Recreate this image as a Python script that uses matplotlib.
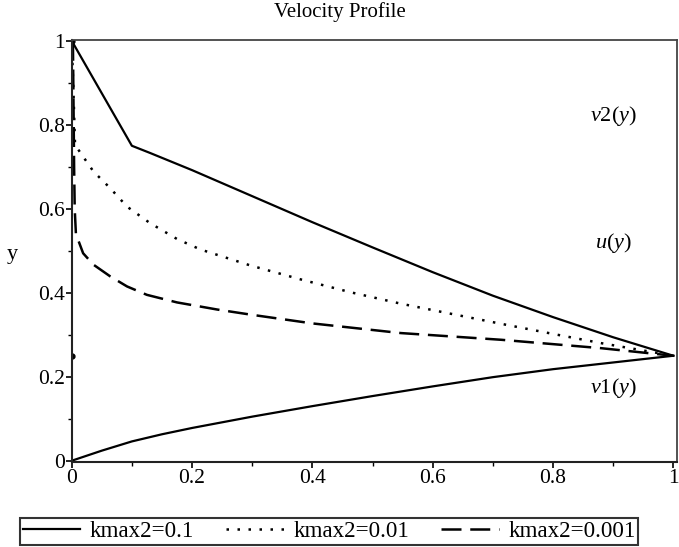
import matplotlib
matplotlib.use("Agg")
import matplotlib.pyplot as plt
from matplotlib.ticker import MultipleLocator

plt.rcParams["font.family"] = ["Liberation Serif", "DejaVu Serif"]
plt.rcParams["mathtext.fontset"] = "custom"
plt.rcParams["mathtext.rm"] = "Liberation Serif"
plt.rcParams["mathtext.it"] = "Liberation Serif:italic"

# v2 + u part of each profile (velocity on x, position y on the vertical)
x_k01 = [0.0, 0.1, 0.13, 0.2, 0.3, 0.4, 0.5, 0.6, 0.7, 0.8, 0.9, 1.0]
y_k01 = [1.0, 0.75, 0.733, 0.692, 0.630, 0.568, 0.508, 0.449, 0.393, 0.342, 0.294, 0.25]

x_k001 = [0.0, 0.003, 0.0055, 0.036, 0.064, 0.092, 0.13, 0.175, 0.214, 0.297, 0.38,
          0.464, 0.547, 0.63, 0.714, 0.8, 0.88, 1.0]
y_k001 = [1.0, 0.875, 0.752, 0.689, 0.649, 0.605, 0.566, 0.528, 0.503, 0.465, 0.432,
          0.401, 0.374, 0.350, 0.326, 0.302, 0.280, 0.25]

x_k0001 = [0.002, 0.003, 0.004, 0.005, 0.007, 0.019, 0.036, 0.064, 0.092, 0.125, 0.175,
           0.242, 0.297, 0.4, 0.547, 0.714, 0.88, 1.0]
y_k0001 = [1.0, 0.85, 0.70, 0.60, 0.54, 0.494, 0.467, 0.439, 0.415, 0.395, 0.377,
           0.360, 0.348, 0.327, 0.304, 0.288, 0.268, 0.25]

# v1 part, same for all kmax2
x_v1 = [0.0, 0.05, 0.1, 0.15, 0.2, 0.3, 0.4, 0.5, 0.6, 0.7, 0.8, 0.9, 1.0]
y_v1 = [0.0, 0.024, 0.046, 0.063, 0.078, 0.105, 0.130, 0.154, 0.177, 0.199, 0.218, 0.234, 0.25]

labels = ["kmax2=0.1", "kmax2=0.01", "kmax2=0.001"]

fig = plt.figure(figsize=(6.79, 5.47), dpi=100)
ax = fig.add_axes([0.1056, 0.1554, 0.8914, 0.7716])

l1, = ax.plot(x_k01, y_k01, color="black", lw=1.6, label=labels[0])
l2, = ax.plot(x_k001, y_k001, color="black", lw=1.8, linestyle=(0, (1, 3.4)), label=labels[1])
l3, = ax.plot(x_k0001, y_k0001, color="black", lw=1.8, linestyle=(0, (8, 3.5)), label=labels[2])
ax.plot(x_v1, y_v1, color="black", lw=1.6)
ax.plot([0.0, 0.0], [0.25, 1.0], linestyle="none", marker="o", ms=3.5, color="black")

ax.set_xlim(0, 1.006)
ax.set_ylim(-0.003, 1.002)
ax.xaxis.set_minor_locator(MultipleLocator(0.1))
ax.yaxis.set_minor_locator(MultipleLocator(0.1))
ax.set_yticks([0, 0.2, 0.4, 0.6, 0.8, 1.0])
ax.set_yticklabels(["0", "0.2", "0.4", "0.6", "0.8", "1"], fontsize=15.5)
ax.set_xticks([0, 0.2, 0.4, 0.6, 0.8, 1.0])
ax.set_xticklabels(["0", "0.2", "0.4", "0.6", "0.8", "1"], fontsize=15.5)
ax.tick_params(which="major", direction="out", length=4, width=1.2, pad=1)
ax.tick_params(which="minor", direction="out", length=3, width=1.0)
for side in ["left", "bottom"]:
    ax.spines[side].set_linewidth(1.5)
    ax.spines[side].set_color("#222222")
for side in ["top", "right"]:
    ax.spines[side].set_linewidth(1.3)
    ax.spines[side].set_color("#444444")

ax.text(0.90, 0.82, r"$v2(y)$", fontsize=16, ha="center", va="center")
ax.text(0.90, 0.519, r"$u(y)$", fontsize=16, ha="center", va="center")
ax.text(0.90, 0.174, r"$v1(y)$", fontsize=16, ha="center", va="center")

fig.text(0.5, 0.978, "Velocity Profile", fontsize=15, ha="center", va="center")
fig.text(12 / 679, 1 - 255 / 547, "y", fontsize=16, ha="center", va="center")

leg = fig.legend(handles=[l1, l2, l3], loc="lower left", ncol=3,
                 bbox_to_anchor=(20 / 679, 2 / 547),
                 prop={"size": 16.6}, handlelength=2.5, handletextpad=0.4,
                 columnspacing=1.4, borderpad=0.12, borderaxespad=0,
                 fancybox=False, framealpha=1)
leg.get_frame().set_edgecolor("#333333")
leg.get_frame().set_linewidth(1.5)

fig.savefig("out.png", dpi=100)
